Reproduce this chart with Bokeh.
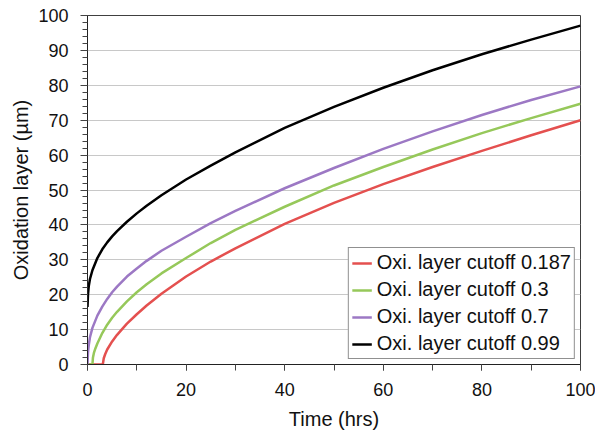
from bokeh.plotting import figure
from bokeh.models import Range1d, SingleIntervalTicker
from bokeh.embed import file_html
from bokeh.resources import INLINE

# Data
t_red = [0, 3.1, 3.3, 3.6, 4, 5, 6, 8, 10, 12, 15, 20, 25, 30, 40, 50, 60, 70, 80, 90, 100]
y_red = [0, 0, 1.8, 3.0, 4.3, 6.6, 8.5, 11.7, 14.4, 16.9, 20.3, 25.2, 29.5, 33.3, 40.3, 46.3, 51.7, 56.6, 61.2, 65.7, 70]

t_green = [0, 1, 1.1, 1.3, 1.6, 2, 3, 4, 5, 6, 8, 10, 12, 15, 20, 25, 30, 40, 50, 60, 70, 80, 90, 100]
y_green = [0, 0, 1.9, 3.3, 4.6, 6, 9, 11.4, 13.4, 15.1, 18.1, 20.7, 23, 26.1, 30.5, 34.8, 38.6, 45.2, 51.3, 56.6, 61.6, 66.3, 70.6, 74.7]

t_purple = [0, 0.1, 0.25, 0.5, 1, 2, 3, 4, 5, 6, 8, 10, 12, 15, 20, 25, 30, 40, 50, 60, 70, 80, 90, 100]
y_purple = [0, 3.5, 5.5, 7.8, 10.5, 14, 16.6, 18.8, 20.7, 22.3, 25.2, 27.5, 29.7, 32.6, 36.6, 40.5, 44, 50.5, 56.3, 61.8, 66.8, 71.5, 75.8, 79.7]

t_black = [0, 0.1, 0.25, 0.5, 1, 2, 3, 4, 5, 6, 8, 10, 12, 15, 20, 25, 30, 40, 50, 60, 70, 80, 90, 100]
y_black = [16.5, 20, 22.4, 24.5, 27, 30.5, 33, 35, 36.7, 38.2, 40.9, 43.3, 45.5, 48.5, 53, 57, 60.8, 67.8, 73.8, 79.3, 84.3, 88.9, 93.1, 97.1]

labels = ["Oxi. layer cutoff 0.187", "Oxi. layer cutoff 0.3",
          "Oxi. layer cutoff 0.7", "Oxi. layer cutoff 0.99"]
colors = ["#E4504F", "#96C85A", "#9C78C4", "#000000"]

FONT = "Liberation Sans"

p = figure(width=595, height=432, x_range=Range1d(0, 100), y_range=Range1d(0, 100),
           output_backend="svg", toolbar_location=None,
           min_border_left=87, min_border_right=15, min_border_top=15, min_border_bottom=67)
p.background_fill_color = "white"
p.border_fill_color = "white"
p.outline_line_color = "#404040"
p.outline_line_width = 1

series = [(t_red, y_red), (t_green, y_green), (t_purple, y_purple), (t_black, y_black)]
for (tx, ty), lab, col in zip(series, labels, colors):
    p.line(tx, ty, line_color=col, line_width=2.5, legend_label=lab)

# Axes
p.xaxis.ticker = SingleIntervalTicker(interval=20, num_minor_ticks=2)
p.yaxis.ticker = SingleIntervalTicker(interval=10, num_minor_ticks=5)
p.xaxis.axis_label = "Time (hrs)"
p.yaxis.axis_label = "Oxidation layer (\u00b5m)"
for ax in (p.xaxis, p.yaxis):
    ax.axis_label_text_font = FONT
    ax.axis_label_text_font_style = "normal"
    ax.axis_label_text_font_size = "20px"
    ax.axis_label_text_color = "#111111"
    ax.major_label_text_font = FONT
    ax.major_label_text_font_size = "18px"
    ax.major_label_text_color = "#111111"
    ax.axis_line_color = "#222222"
    ax.major_tick_line_color = "#444444"
    ax.minor_tick_line_color = "#444444"
    ax.major_tick_in = 0
    ax.minor_tick_in = 0

p.xaxis.major_tick_out = 6
p.xaxis.minor_tick_out = 6
p.xaxis.major_label_standoff = 12
p.xaxis.axis_label_standoff = 9
p.yaxis.major_tick_out = 7
p.yaxis.minor_tick_out = 5
p.yaxis.major_label_standoff = 12
p.yaxis.axis_label_standoff = 3

p.xgrid.visible = False
p.ygrid.grid_line_color = "#c8c8c8"
p.ygrid.grid_line_width = 1

# Legend
lg = p.legend[0]
lg.location = "bottom_right"
lg.margin = 5
lg.padding = 3
lg.spacing = 4
lg.border_line_color = "#222222"
lg.border_line_width = 1
lg.background_fill_color = "white"
lg.background_fill_alpha = 1
lg.label_text_font = FONT
lg.label_text_font_size = "20px"
lg.label_text_color = "#111111"
lg.glyph_width = 20
lg.glyph_height = 20
lg.label_height = 20
lg.label_standoff = 5

open("out.html", "w").write(file_html(p, INLINE))
